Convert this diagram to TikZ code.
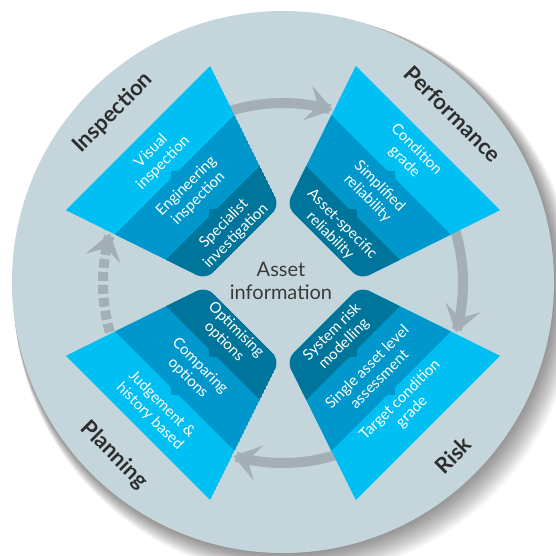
\documentclass[tikz,border=0pt]{standalone}
\usepackage{fontspec}
\setmainfont{Lato}
\usetikzlibrary{arrows.meta}
\definecolor{disc}{RGB}{196,214,220}
\definecolor{bandA}{RGB}{0,191,243}
\definecolor{bandB}{RGB}{0,152,204}
\definecolor{bandC}{RGB}{0,117,155}
\definecolor{arrowgrey}{RGB}{163,175,180}
\definecolor{labelgrey}{RGB}{45,45,45}
\definecolor{centregrey}{RGB}{58,58,58}
\tikzset{
  ftext/.style={text=white, align=center, inner sep=0pt, font=\fontsize{15}{17}\selectfont},
  lab/.style={text=labelgrey, inner sep=0pt, font=\bfseries\fontsize{22}{24}\selectfont},
  cyclearrow/.style={draw=arrowgrey, line width=10pt, -{Stealth[length=26pt, width=36pt, inset=11pt]}},
}
\newcommand{\funnelshape}[1]{%
  \begin{scope}[shift={(283,283)}, rotate=#1]
    \begin{scope}
      \clip[rounded corners=10pt] (57,-52) -- (250,-117.2) -- (250,117.2) -- (57,52) -- cycle;
      \fill[bandA] (57,-52) -- (205,-102) -- (205,102) -- (57,52) -- cycle;
      \fill[bandB] (57,-52) -- (153,-84.43) -- (153,-6) -- (158,0) -- (153,6) -- (153,84.43) -- (57,52) -- cycle;
      \fill[bandC] (57,-52) -- (99,-66.19) -- (99,-6) -- (104,0) -- (99,6) -- (99,66.19) -- (57,52) -- cycle;
    \end{scope}
  \end{scope}}
\begin{document}
\begin{tikzpicture}[x=1pt,y=-1pt]
\useasboundingbox (0,0) rectangle (556,556);
\fill[white] (0,0) rectangle (556,556);
% shadow
\foreach \i in {1,...,20} {
  \fill[black, opacity=0.025] ({283+0.6*\i},{282+0.7*\i}) circle[radius={271+0.5*\i}];
}
% disc
\fill[disc] (283,282) circle[radius=271];
% cycle arrows
\draw[cyclearrow] plot[domain=-110:-74, samples=40] ({283+180*cos(\x)},{283+180*sin(\x)});
\draw[cyclearrow] plot[domain=-20:16, samples=40] ({283+180*cos(\x)},{283+180*sin(\x)});
\draw[cyclearrow] plot[domain=70:106, samples=40] ({283+180*cos(\x)},{283+180*sin(\x)});
\draw[cyclearrow, dash pattern=on 9pt off 4pt] plot[domain=160:196, samples=40] ({283+180*cos(\x)},{283+180*sin(\x)});
% funnels
\funnelshape{135}
\funnelshape{45}
\funnelshape{-45}
\funnelshape{-135}
% funnel texts
\begin{scope}[shift={(283,283)}, rotate=135]
  \node[ftext, rotate=45] (vis) at (178,0) {Visual\\inspection};
  \node[ftext, rotate=45] (eng) at (128,0) {Engineering\\inspection};
  \node[ftext, rotate=45] (spe) at (75,0) {Specialist\\investigation};
\end{scope}
\begin{scope}[shift={(283,283)}, rotate=45]
  \node[ftext, rotate=-45] (cond) at (180,0) {Condition\\grade};
  \node[ftext, rotate=-45] (simp) at (128,0) {Simplified\\reliability};
  \node[ftext, rotate=-45] (asrel) at (75,0) {Asset-specific\\reliability};
\end{scope}
\begin{scope}[shift={(283,283)}, rotate=-45]
  \node[ftext, rotate=45] (sysr) at (78,0) {System risk\\modelling};
  \node[ftext, rotate=45] (sing) at (127,0) {Single asset level\\assessment};
  \node[ftext, rotate=45] (targ) at (174,0) {Target condition\\grade};
\end{scope}
\begin{scope}[shift={(283,283)}, rotate=-135]
  \node[ftext, rotate=-45] (opti) at (75,0) {Optimising\\options};
  \node[ftext, rotate=-45] (comp) at (126,0) {Comparing\\options};
  \node[ftext, rotate=-45] (judg) at (180,0) {Judgement \&\\history based};
\end{scope}
% centre
\node[text=centregrey, align=center, inner sep=0pt, font=\fontsize{20}{23}\selectfont] (asset) at (281,281) {Asset\\information};
% labels
\node[lab, rotate=45] (insp) at (113,113) {Inspection};
\node[lab, rotate=-45] (perf) at (453,114) {Performance};
\node[lab, rotate=-45] (plan) at (114,455) {Planning};
\node[lab, rotate=45] (risk) at (453,455) {Risk};
\end{tikzpicture}
\end{document}
